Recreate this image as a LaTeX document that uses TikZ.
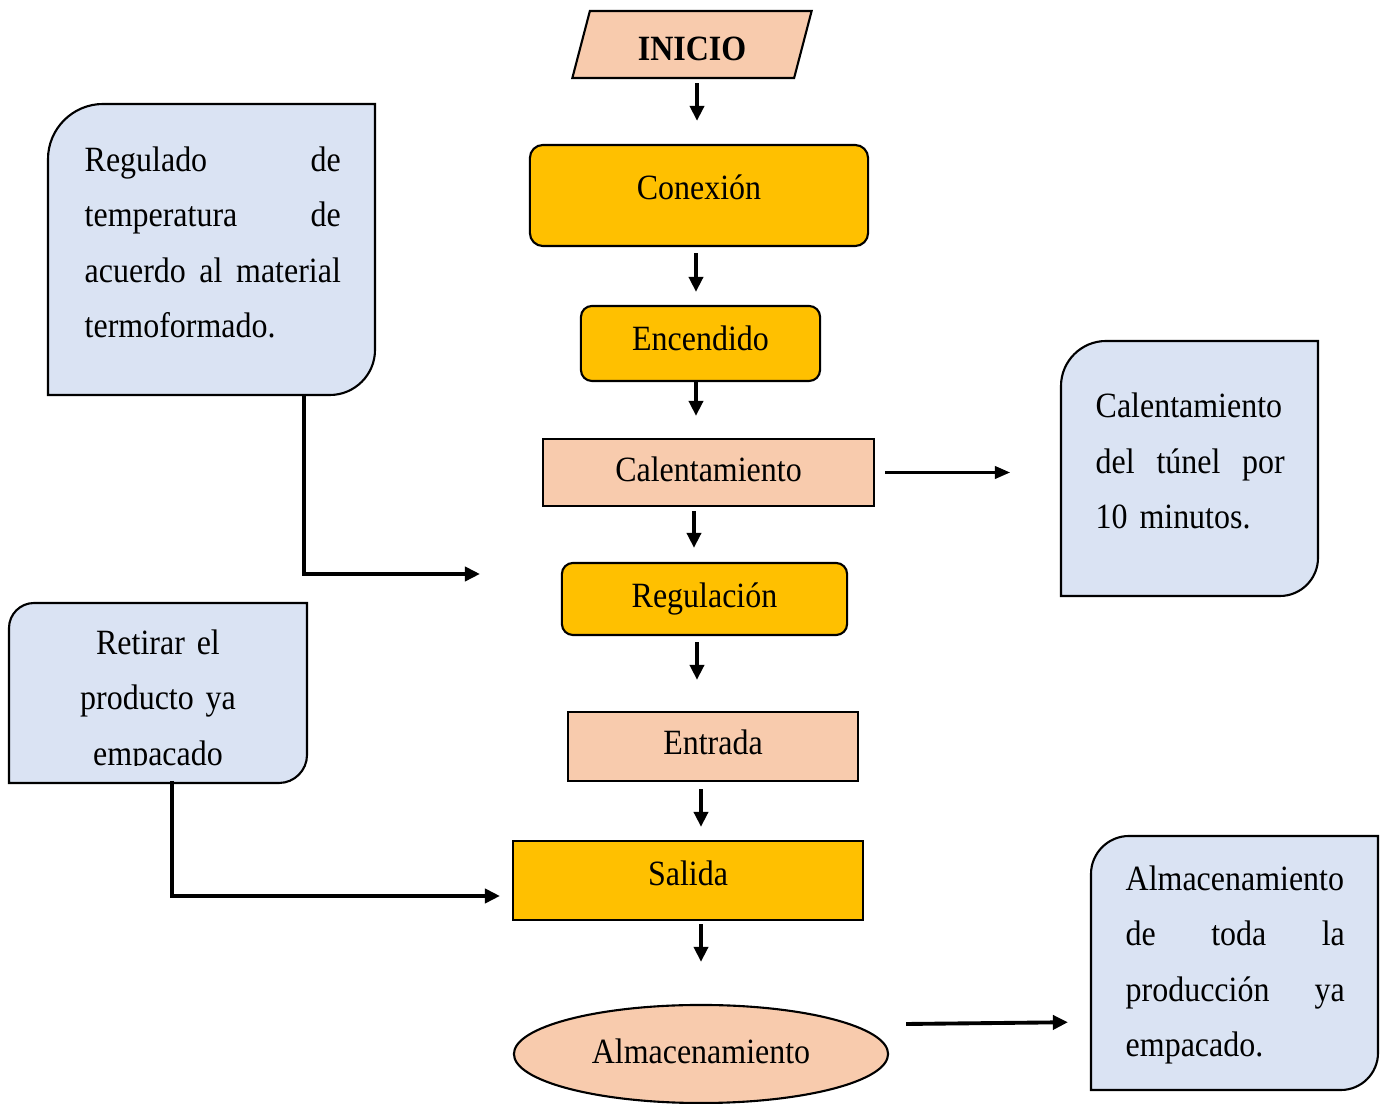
\documentclass[tikz,border=0pt]{standalone}
\usepackage{fontspec}
\setmainfont{Liberation Serif}[FakeStretch=0.9]
\usepackage{tikz}
\usetikzlibrary{shapes.geometric, arrows.meta, calc}

\definecolor{durazno}{HTML}{F8CBAD}
\definecolor{amarillo}{HTML}{FFC000}
\definecolor{celeste}{HTML}{DAE3F3}

\newcommand{\fuente}{\fontsize{10.1}{15.8}\selectfont}
\newcommand{\linea}[2]{\makebox[#1][s]{#2}}
%% caja de nota: esquinas sup. izquierda e inf. derecha redondeadas
\newcommand{\nota}[6]{%
  \filldraw[fill=celeste, line width=0.6pt]
    (#1,#4) -- (#1,{#2+#5})
    .. controls (#1,{#2+0.45*#5}) and ({#1+0.45*#5},#2) .. ({#1+#5},#2)
    -- (#3,#2) -- (#3,{#4-#6})
    .. controls (#3,{#4-0.45*#6}) and ({#3-0.45*#6},#4) .. ({#3-#6},#4)
    -- cycle;}

\tikzset{
  borde/.style={draw, line width=0.6pt, font=\fuente, inner sep=0pt},
  texto/.style={text height=7pt, text depth=#1},
  proceso/.style={borde, fill=amarillo, rounded corners=0.13cm},
  paso/.style={borde, fill=amarillo},
  pasoclaro/.style={borde, fill=durazno},
  flecha/.style={line width=1.1pt, -{Triangle[length=4.3pt,width=4pt]}},
  flechafina/.style={line width=0.6pt, -{Triangle[length=4.3pt,width=3.6pt]}},
  enlace/.style={line width=1.1pt, -{Triangle[length=4.3pt,width=4pt]}},
  textonota/.style={font=\fuente, inner sep=0pt, anchor=north west, align=left},
}

\begin{document}
\begin{tikzpicture}[x=0.01cm, y=-0.01cm]
  \useasboundingbox (0,0) rectangle (1384,1104);
  %% flujo principal
  \node[borde, fill=durazno, trapezium, trapezium left angle=80,
    trapezium right angle=100, trapezium stretches=true,
    text height=12pt, text depth=3.0pt,
    minimum width=2.40cm, minimum height=0.67cm] (inicio) at (692,44.5) {\bfseries INICIO};
  \node[proceso, texto=4.9pt, minimum width=3.38cm, minimum height=1.01cm] (conexion) at (699,195.5) {Conexión};
  \node[proceso, texto=3.2pt, rounded corners=0.11cm, minimum width=2.39cm, minimum height=0.75cm] (encendido) at (700.5,343.5) {Encendido};
  \node[pasoclaro, texto=2.1pt, minimum width=3.31cm, minimum height=0.67cm] (calentamiento) at (708.5,472.5) {Calentamiento};
  \node[proceso, texto=2.4pt, rounded corners=0.11cm, minimum width=2.85cm, minimum height=0.72cm] (regulacion) at (704.5,599) {Regulación};
  \node[pasoclaro, texto=2.7pt, minimum width=2.90cm, minimum height=0.69cm] (entrada) at (713,746.5) {Entrada};
  \node[paso, texto=4.4pt, minimum width=3.50cm, minimum height=0.79cm] (salida) at (688,880.5) {Salida};
  \node[borde, texto=1.8pt, fill=durazno, ellipse, minimum width=3.74cm, minimum height=0.98cm] (almacen) at (701,1054) {Almacenamiento};

  \draw[flecha, shorten <=0.04cm, shorten >=0.23cm] ([xshift=0.05cm]inicio.south) -- ([xshift=0.05cm]inicio.south |- conexion.north);
  \draw[flecha, shorten <=0.06cm, shorten >=0.13cm] ([xshift=-0.03cm]conexion.south) -- ([xshift=-0.03cm]conexion.south |- encendido.north);
  \draw[flecha, shorten >=0.22cm] ([xshift=-0.045cm]encendido.south) -- ([xshift=-0.045cm]encendido.south |- calentamiento.north);
  \draw[flecha, shorten <=0.04cm, shorten >=0.14cm] ([xshift=-0.145cm]calentamiento.south) -- ([xshift=-0.145cm]calentamiento.south |- regulacion.north);
  \draw[flecha, shorten <=0.06cm, shorten >=0.31cm] ([xshift=-0.075cm]regulacion.south) -- ([xshift=-0.075cm]regulacion.south |- entrada.north);
  \draw[flecha, shorten <=0.07cm, shorten >=0.13cm] ([xshift=-0.12cm]entrada.south) -- ([xshift=-0.12cm]entrada.south |- salida.north);
  \draw[flecha, shorten <=0.03cm, shorten >=0.42cm] ([xshift=0.13cm]salida.south) -- ([xshift=0.13cm]salida.south |- almacen.north);

  %% notas
  \nota{48}{104}{375}{395}{55}{45}
  \node[textonota, text width=2.56cm] (texto1) at (84,131.5)
    {\strut\linea{2.56cm}{Regulado\hfill de}\\ \linea{2.56cm}{temperatura\hfill de}\\
     \linea{2.56cm}{acuerdo\hfill al\hfill material}\\ termoformado.};
  \nota{1061}{341}{1318}{596}{45}{38}
  \node[textonota, text width=1.89cm] (texto2) at (1095,378)
    {\strut Calentamiento\\ \linea{1.89cm}{del\hfill túnel\hfill por}\\ 10 minutos.};
  \nota{9}{603}{307}{783}{25}{28}
  \begin{scope}
    \clip (9,603) rectangle (307,766);
    \node[textonota, anchor=north, text width=2.9cm, align=center] (texto3) at (158,614.5)
      {\strut Retirar el\\ producto ya\\ empacado};
  \end{scope}
  \nota{1091}{836}{1378}{1090}{38}{37}
  \node[textonota, text width=2.19cm] (texto4) at (1125,850.5)
    {\strut Almacenamiento\\ \linea{2.19cm}{de\hfill toda\hfill la}\\
     \linea{2.19cm}{producción\hfill ya}\\ empacado.};

  \coordinate (nota1-s) at (304,395);
  \coordinate (llega1) at (480,574);
  \coordinate (nota2-o) at (1061,470);
  \coordinate (nota3-s) at (172,781);
  \coordinate (llega2) at (500,896);
  \coordinate (nota4-o) at (1091,1022);

  \draw[flechafina, shorten <=0.10cm, shorten >=0.51cm] (calentamiento.east) -- (calentamiento.east -| nota2-o);
  \draw[enlace, shorten >=0.23cm] ([shift={(17,-30)}]almacen.east) -- (nota4-o);
  \draw[enlace] (nota1-s) |- (llega1);
  \draw[enlace] (nota3-s) |- (llega2);
\end{tikzpicture}
\end{document}
